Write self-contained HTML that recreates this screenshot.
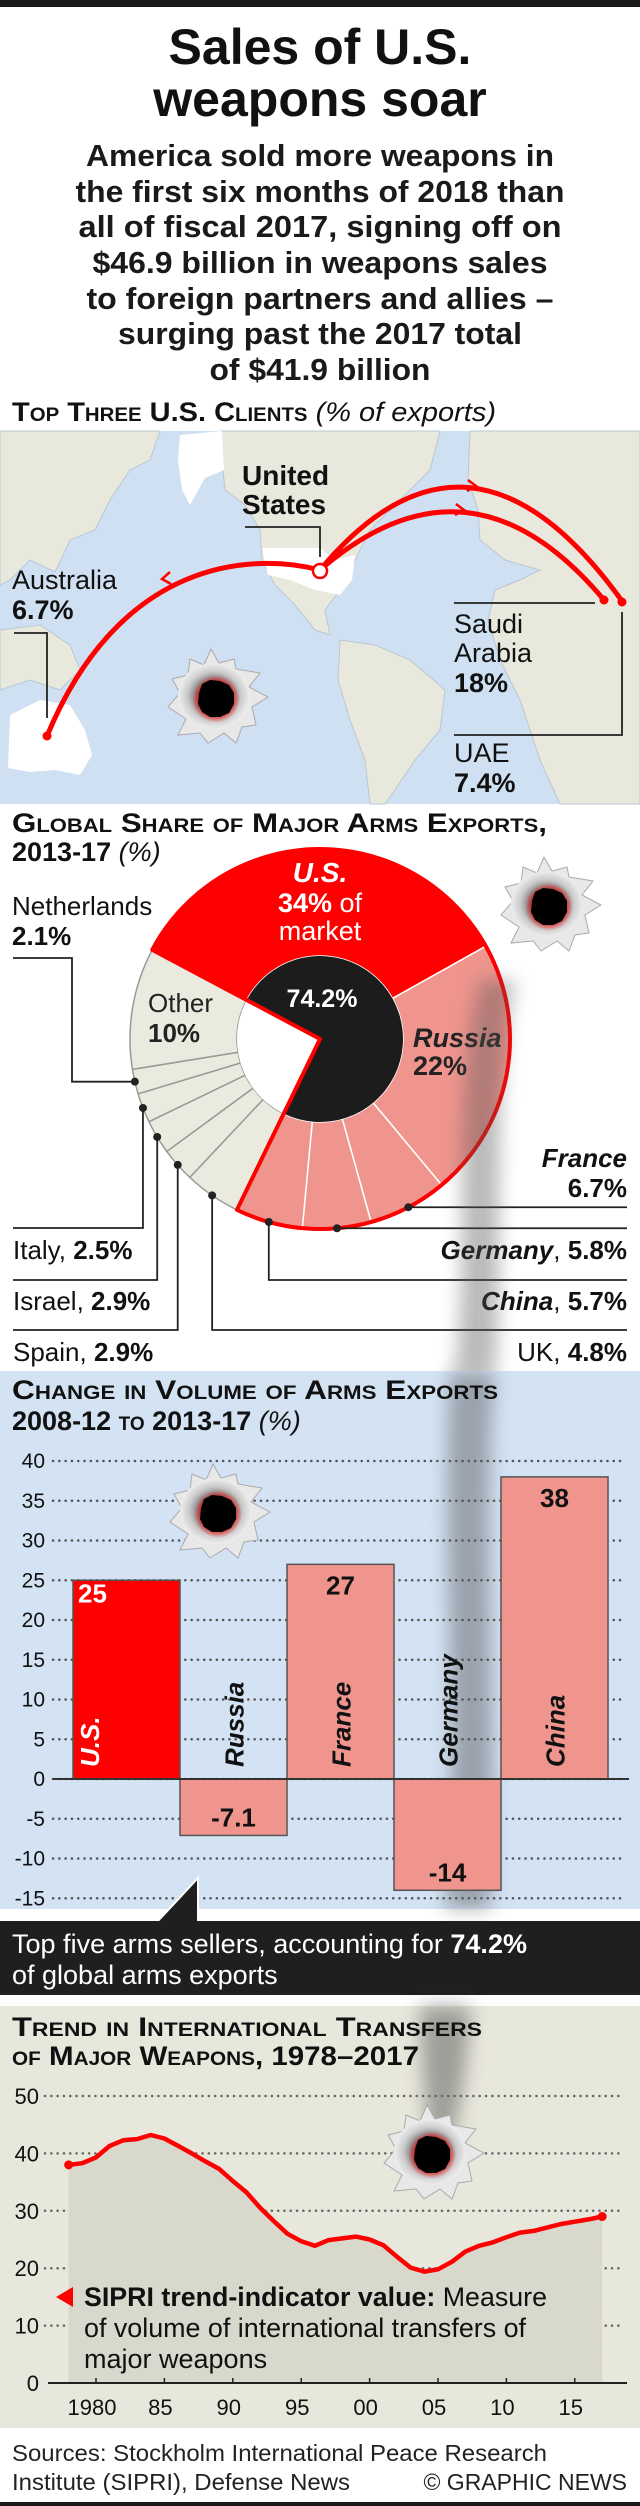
<!DOCTYPE html>
<html><head><meta charset="utf-8"><title>Sales of U.S. weapons soar</title>
<style>
html,body{margin:0;padding:0;background:#fff;}
svg{display:block;font-family:"Liberation Sans",Arial,sans-serif;}
.b{font-weight:bold;}
</style></head>
<body>
<svg id="root" width="640" height="2506" viewBox="0 0 640 2506" xmlns="http://www.w3.org/2000/svg">
<defs>
  <radialGradient id="holeGray" cx="50%" cy="50%" r="50%">
    <stop offset="0" stop-color="#333"/><stop offset="0.45" stop-color="#777"/><stop offset="0.75" stop-color="#ccc"/><stop offset="1" stop-color="#eee"/>
  </radialGradient>
  <radialGradient id="holeRed" cx="50%" cy="50%" r="50%">
    <stop offset="0.55" stop-color="#f00"/><stop offset="1" stop-color="#f00" stop-opacity="0"/>
  </radialGradient>
  <filter id="blur8" x="-50%" y="-10%" width="200%" height="120%"><feGaussianBlur stdDeviation="9"/></filter>
  <symbol id="hole" viewBox="-60 -60 120 120" overflow="visible">
    <polygon points="-5,-50 3,-36 18,-40 20,-30 44,-26 33,-12 52,-2 36,8 40,26 26,28 20,44 8,34 -8,44 -16,34 -38,36 -30,20 -48,8 -36,-6 -44,-20 -28,-24 -26,-40 -12,-34" fill="#e8e8e8" stroke="#aaa" stroke-width="1"/>
    <ellipse cx="-2" cy="-3" rx="36" ry="33" fill="url(#holeGray)"/>
    <circle cx="0" cy="0" r="24" fill="url(#holeRed)"/>
    <polygon points="-17,-6 -14,-15 -6,-19 4,-18 13,-14 18,-6 18,5 13,14 4,18 -6,18 -14,13 -18,5" fill="#000"/>
  </symbol>
</defs>

<!-- HEADER -->
<rect x="0" y="0" width="640" height="7" fill="#1a1a1a"/>
<text class="b" font-size="50" text-anchor="middle" fill="#111"><tspan x="320" y="64">Sales of U.S.</tspan><tspan x="320" y="116">weapons soar</tspan></text>
<g class="b" font-size="31" text-anchor="middle" fill="#1a1a1a">
  <text x="320" y="166" textLength="468" lengthAdjust="spacingAndGlyphs">America sold more weapons in</text>
  <text x="320" y="202" textLength="489" lengthAdjust="spacingAndGlyphs">the first six months of 2018 than</text>
  <text x="320" y="237" textLength="483" lengthAdjust="spacingAndGlyphs">all of fiscal  2017, signing off on</text>
  <text x="320" y="273" textLength="455" lengthAdjust="spacingAndGlyphs">$46.9 billion in weapons sales</text>
  <text x="320" y="309" textLength="467" lengthAdjust="spacingAndGlyphs">to foreign partners and allies –</text>
  <text x="320" y="344" textLength="404" lengthAdjust="spacingAndGlyphs">surging past the 2017 total</text>
  <text x="320" y="380" textLength="221" lengthAdjust="spacingAndGlyphs">of $41.9 billion</text>
</g>
<text x="12" y="421" font-size="27" fill="#111" textLength="484" lengthAdjust="spacingAndGlyphs"><tspan class="b" style="font-variant:small-caps">Top Three U.S. Clients</tspan> <tspan font-style="italic">(% of exports)</tspan></text>

<!-- MAP -->
<g>
  <rect x="0" y="431" width="640" height="373" fill="#cfe0f2"/>
  <g fill="#e9e8dc" stroke="#b9c7d3" stroke-width="1">
    <path d="M0,431 L160,431 L150,460 L130,470 L110,500 L95,530 L70,540 L55,572 L30,560 L10,580 L0,585 Z"/>
    <path d="M0,630 L40,625 L70,645 L80,670 L60,690 L30,680 L0,690 Z"/>
    <path d="M220,431 L440,431 L430,470 L400,500 L370,530 L355,560 L340,590 L325,610 L330,635 L315,630 L295,605 L275,585 L262,560 L260,530 L245,505 L225,490 L222,460 Z"/>
    <path d="M470,431 L530,431 L520,460 L495,470 L478,455 Z"/>
    <path d="M340,640 L375,645 L410,660 L445,690 L440,730 L415,760 L395,790 L385,804 L370,804 L365,760 L350,720 L338,680 Z"/>
    <path d="M470,431 L640,431 L640,804 L560,804 L540,760 L520,700 L500,660 L488,620 L495,590 L520,580 L540,570 L505,560 L480,540 L478,510 L468,480 Z"/>
  </g>
  <path d="M262,548 L320,548 L335,560 L355,555 L352,580 L340,595 L315,590 L290,580 L268,575 Z" fill="#fff"/>
  <path d="M180,435 L222,431 L224,470 L205,478 L190,505 L182,490 L178,460 Z" fill="#fff"/>
  <path d="M10,715 L40,700 L70,705 L85,730 L92,755 L80,775 L55,770 L30,772 L8,768 Z" fill="#fff"/>
  <use href="#hole" x="156" y="639" width="120" height="120"/>
  <g fill="none" stroke="#ff0000" stroke-width="5" stroke-linecap="round">
    <path d="M320,570 C250,552 120,560 47,736"/>
    <path d="M320,570 Q470,440 604,600"/>
    <path d="M320,570 Q470,390 622,601"/>
  </g>
  <g stroke="#ff0000" stroke-width="2.5" fill="none">
    <path d="M170,572 L162,579 L171,584"/>
    <path d="M456,504 L464,510 L455,515"/>
    <path d="M468,480 L476,486 L467,491"/>
  </g>
  <circle cx="320" cy="571" r="7" fill="#fff" stroke="#f00" stroke-width="2.5"/>
  <circle cx="47" cy="736" r="4.5" fill="#f00"/>
  <circle cx="604" cy="600" r="4.5" fill="#f00"/>
  <circle cx="622" cy="602" r="4.5" fill="#f00"/>
  <g fill="none" stroke="#222" stroke-width="1.8">
    <polyline points="245,527 320,527 320,557"/>
    <polyline points="14,633 47,633 47,718"/>
    <polyline points="454,603 595,603"/>
    <polyline points="454,735 622,735 622,612"/>
  </g>
  <text class="b" font-size="28" fill="#111"><tspan x="242" y="485">United</tspan><tspan x="242" y="514">States</tspan></text>
  <text font-size="27" fill="#111"><tspan x="12" y="589">Australia</tspan><tspan x="12" y="619" class="b">6.7%</tspan></text>
  <text font-size="27" fill="#111"><tspan x="454" y="633">Saudi</tspan><tspan x="454" y="662">Arabia</tspan><tspan x="454" y="692" class="b">18%</tspan></text>
  <text font-size="27" fill="#111"><tspan x="454" y="762">UAE</tspan><tspan x="454" y="792" class="b">7.4%</tspan></text>
</g>

<!-- DONUT SECTION -->
<text font-size="27" fill="#111"><tspan x="12" y="832" class="b" style="font-variant:small-caps" textLength="535" lengthAdjust="spacingAndGlyphs">Global Share of Major Arms Exports,</tspan><tspan x="12" y="861" class="b">2013-17 </tspan><tspan font-style="italic">(%)</tspan></text>

<g id="donut"></g>

<!-- smoke column over donut -->
<g opacity="0.4">
  <path d="M480,980 C450,1100 470,1250 455,1371 L495,1371 C505,1250 490,1100 515,980 Z" fill="#555" filter="url(#blur8)"/>
</g>
<use href="#hole" x="489" y="847" width="120" height="120"/>

<!-- BAR CHART -->
<rect x="0" y="1371" width="640" height="538" fill="#d3e3f4"/>
<g opacity="0.45"><path d="M450,1371 C440,1550 460,1720 445,1909 L490,1909 C500,1720 480,1550 495,1371 Z" fill="#555" filter="url(#blur8)"/></g>
<text font-size="27" fill="#111"><tspan x="12" y="1399" class="b" style="font-variant:small-caps" textLength="486" lengthAdjust="spacingAndGlyphs">Change in Volume of Arms Exports</tspan><tspan x="12" y="1430" class="b" style="font-variant:small-caps">2008-12 to 2013-17 </tspan><tspan font-style="italic">(%)</tspan></text>
<g id="bars"></g>
<use href="#hole" x="158" y="1454" width="120" height="120"/>

<!-- CALLOUT BAND -->
<rect x="0" y="1921" width="640" height="74" fill="#1f1f1f"/>
<polygon points="157,1922 198,1878 198,1922" fill="#1f1f1f" stroke="#fff" stroke-width="2"/>
<rect x="150" y="1921" width="49" height="4" fill="#1f1f1f"/>
<text font-size="27" fill="#fff"><tspan x="12" y="1953" textLength="515" lengthAdjust="spacingAndGlyphs">Top five arms sellers, accounting for <tspan class="b">74.2%</tspan></tspan><tspan x="12" y="1984">of global arms exports</tspan></text>

<!-- TREND CHART -->
<rect x="0" y="2006" width="640" height="422" fill="#e8e7dc"/>
<g opacity="0.5"><path d="M420,2006 L470,2006 C468,2060 460,2110 450,2150 L430,2150 C425,2100 422,2060 420,2006 Z" fill="#555" filter="url(#blur8)"/></g>
<text class="b" font-size="27" fill="#111" style="font-variant:small-caps"><tspan x="12" y="2036" textLength="470" lengthAdjust="spacingAndGlyphs">Trend in International Transfers</tspan><tspan x="12" y="2065" textLength="407" lengthAdjust="spacingAndGlyphs">of Major Weapons, 1978–2017</tspan></text>
<g id="trend"></g>
<use href="#hole" x="372" y="2095" width="120" height="120"/>
<polygon points="56,2297 73,2287 73,2307" fill="#f00"/>
<text font-size="27" fill="#111"><tspan x="84" y="2306" textLength="463" lengthAdjust="spacingAndGlyphs"><tspan class="b">SIPRI trend-indicator value:</tspan> Measure</tspan><tspan x="84" y="2337" textLength="442" lengthAdjust="spacingAndGlyphs">of volume of international transfers of</tspan><tspan x="84" y="2368">major weapons</tspan></text>

<!-- FOOTER -->
<text font-size="23" fill="#222"><tspan x="12" y="2461" textLength="535" lengthAdjust="spacingAndGlyphs">Sources: Stockholm International Peace Research</tspan><tspan x="12" y="2490" textLength="338" lengthAdjust="spacingAndGlyphs">Institute (SIPRI), Defense News</tspan></text>
<text x="627" y="2490" font-size="23" fill="#222" text-anchor="end">© GRAPHIC NEWS</text>
<rect x="0" y="2502" width="640" height="4" fill="#1a1a1a"/>
</svg>

<script>
// ---------- DONUT DATA ----------
const donutNames = ["U.S.","Russia","France","Germany","China","UK","Spain","Israel","Italy","Netherlands","Other"];
const donutShares = [34,22,6.7,5.8,5.7,4.8,2.9,2.9,2.5,2.1,10.3];
const donutTopCount = 5;

// ---------- BAR DATA ----------
const barCountries = ["U.S.","Russia","France","Germany","China"];
const barValues = [25,-7.1,27,-14,38];
const barTicks = [40,35,30,25,20,15,10,5,0,-5,-10,-15];

// ---------- TREND DATA ----------
const trendYears = [1978,1979,1980,1981,1982,1983,1984,1985,1986,1987,1988,1989,1990,1991,1992,1993,1994,1995,1996,1997,1998,1999,2000,2001,2002,2003,2004,2005,2006,2007,2008,2009,2010,2011,2012,2013,2014,2015,2016,2017];
const trendValues = [38,38.3,39.3,41.3,42.3,42.5,43.2,42.6,41.3,40,38.6,37.3,35.2,33.2,30.5,28.2,26,24.7,23.9,24.9,25.2,25.5,25,24,22,20.1,19.4,19.8,21.1,22.9,23.9,24.5,25.4,26.2,26.5,27.1,27.7,28.1,28.5,29];
const trendTicks = [50,40,30,20,10,0];
const trendXTicks = [1980,1985,1990,1995,2000,2005,2010,2015];
const trendXLabels = ["1980","85","90","95","00","05","10","15"];

const NS = "http://www.w3.org/2000/svg";
function mk(tag, attrs, parent){ const e=document.createElementNS(NS,tag); for(const k in attrs) e.setAttribute(k,attrs[k]); parent.appendChild(e); return e; }

// ===== DONUT =====
(function(){
  const g = document.getElementById('donut');
  const cx=320, cy=1039, R=190, r0=83, start=152;
  const P=(a,r)=>[cx+r*Math.cos(a*Math.PI/180), cy-r*Math.sin(a*Math.PI/180)];
  const total = donutShares.reduce((a,b)=>a+b,0);
  let a=start; const angles=[];
  donutShares.forEach((s,i)=>{ const span=s/total*360; angles.push([a,a-span]); a-=span; });
  angles.forEach(([a0,a1],i)=>{
    const big = (a0-a1)>180?1:0;
    const o0=P(a0,R), o1=P(a1,R), i1=P(a1,r0), i0=P(a0,r0);
    const col = i===0 ? "#ff0000" : (i<donutTopCount ? "#ef958e" : "#ebeadf");
    const p = mk('path',{d:`M${o0} A${R},${R} 0 ${big} 1 ${o1} L${i1} A${r0},${r0} 0 ${big} 0 ${i0} Z`,fill:col,stroke:i<donutTopCount?"#fff":"#999","stroke-width":1.5},g);
    
    
  });
  const topEnd = angles[donutTopCount-1][1];
  const ia=P(start,r0), ib=P(topEnd,r0);
  const w = mk('circle',{cx:cx,cy:cy,r:r0,fill:"#fff"},g);
  
  
  const blk = mk('path',{d:`M${cx},${cy} L${ia} A${r0},${r0} 0 1 1 ${ib} Z`,fill:"#1c1c1c"},g);
  
  
  const oa=P(start,R), ob=P(topEnd,R);
  const ol = mk('path',{d:`M${cx},${cy} L${oa} A${R},${R} 0 1 1 ${ob} Z`,fill:"none",stroke:"#ff0000","stroke-width":4,"stroke-linejoin":"round"},g);
  
  
  const t1 = mk('text',{x:320,y:882,"font-size":28,"font-weight":"bold","font-style":"italic",fill:"#fff","text-anchor":"middle"},g); t1.textContent="U.S.";
  
  
  const t2 = mk('text',{x:320,y:912,"font-size":27,fill:"#fff","text-anchor":"middle"},g); t2.innerHTML='<tspan font-weight="bold">'+donutShares[0]+'%</tspan> of';
  
  
  const t3 = mk('text',{x:320,y:940,"font-size":27,fill:"#fff","text-anchor":"middle"},g); t3.textContent="market";
  
  
  const t4 = mk('text',{x:322,y:1007,"font-size":25,"font-weight":"bold",fill:"#fff","text-anchor":"middle"},g);
  t4.textContent = (donutShares.slice(0,donutTopCount).reduce((a,b)=>a+b,0)).toFixed(1)+"%";
  
  
  const t5 = mk('text',{"font-size":27,fill:"#222"},g); t5.innerHTML='<tspan x="413" y="1047" font-weight="bold" font-style="italic">Russia</tspan><tspan x="413" y="1075" font-weight="bold">'+donutShares[1]+'%</tspan>';
  
  
  const t6 = mk('text',{"font-size":26,fill:"#222"},g); t6.innerHTML='<tspan x="148" y="1012">Other</tspan><tspan x="148" y="1042" font-weight="bold">'+Math.round(donutShares[10])+'%</tspan>';
  
  
  const mid=i=>(angles[i][0]+angles[i][1])/2;
  const dot=i=>P(mid(i),R);
  const leaders = [
    [2,'right',null],[3,'right',null],[4,'rightdown',1280],[5,'rightdown',1330],
    [6,'leftdown',1330],[7,'leftdown',1280],[8,'leftdown',1228],[9,'nl',null]
  ];
  leaders.forEach(([i,type,row])=>{
    const [x,y]=dot(i); let pts;
    if(type==='right') pts=`${x},${y} 627,${y}`;
    else if(type==='rightdown') pts=`${x},${y} ${x},${row} 627,${row}`;
    else if(type==='leftdown') pts=`${x},${y} ${x},${row} 13,${row}`;
    else pts=`${x},${y} 72,${y} 72,958 13,958`;
    const l = mk('polyline',{points:pts,fill:"none",stroke:"#222","stroke-width":1.8},g);
    
    
    const c = mk('circle',{cx:x,cy:y,r:4,fill:"#222"},g);
    
    
  });
  const side = [
    [2,627,null,'end'],[3,627,1259,'end'],[4,627,1310,'end'],[5,627,1361,'end'],
    [8,13,1259,'start'],[7,13,1310,'start'],[6,13,1361,'start']
  ];
  side.forEach(([i,x,y,anc])=>{
    const t = mk('text',{"font-size":26,fill:"#111","text-anchor":anc},g);
    const ital = i<donutTopCount;
    if(i===2){
      t.innerHTML='<tspan x="627" y="1167" font-weight="bold" font-style="italic">'+donutNames[i]+'</tspan><tspan x="627" y="1197" font-weight="bold">'+donutShares[i]+'%</tspan>';
    } else {
      t.setAttribute('x',x); t.setAttribute('y',y);
      t.innerHTML='<tspan'+(ital?' font-weight="bold" font-style="italic"':'')+'>'+donutNames[i]+'</tspan>, <tspan font-weight="bold">'+donutShares[i]+'%</tspan>';
    }
    
    
  });
  const nl = mk('text',{"font-size":26,fill:"#111"},g);
  nl.innerHTML='<tspan x="12" y="915">'+donutNames[9]+'</tspan><tspan x="12" y="945" font-weight="bold">'+donutShares[9]+'%</tspan>';
  
  
})();

// ===== BARS =====
(function(){
  const g=document.getElementById('bars');
  const y=v=>1779-7.95*v;
  const x0=73, bw=107;
  barTicks.forEach(t=>{
    const l=mk('line',{x1:53,x2:622,y1:y(t),y2:y(t),stroke:"#555","stroke-width":2.5,"stroke-dasharray":"0.1 6.2","stroke-linecap":"round"},g);
    
    
    const tx=mk('text',{x:45,y:y(t)+7,"font-size":21,fill:"#111","text-anchor":"end"},g); tx.textContent=t;
    
    
  });
  barValues.forEach((v,i)=>{
    const xa=x0+i*bw, top=Math.min(y(v),y(0)), h=Math.abs(y(v)-y(0));
    const r=mk('rect',{x:xa,y:top,width:bw,height:h,fill:i===0?"#ff0000":"#ef958e",stroke:"#555","stroke-width":1.5},g);
    
    
    const cxm=xa+bw/2;
    const lab=mk('text',{"font-size":26,"font-weight":"bold",fill:i===0?"#fff":"#111"},g);
    if(i===0){ lab.setAttribute('x',xa+5); lab.setAttribute('y',y(v)+22); }
    else if(v>=0){ lab.setAttribute('x',cxm); lab.setAttribute('y',y(v)+30); lab.setAttribute('text-anchor','middle'); }
    else { lab.setAttribute('x',cxm); lab.setAttribute('y',y(v)-9); lab.setAttribute('text-anchor','middle'); }
    lab.textContent=v;
    
    
    const nx = i===0 ? xa+26 : cxm+10;
    const nm=mk('text',{x:0,y:0,"font-size":26,"font-weight":"bold","font-style":"italic",fill:i===0?"#fff":"#111",transform:`translate(${nx},${y(0)-12}) rotate(-90)`},g);
    nm.textContent=barCountries[i];
    
    
  });
  const z=mk('line',{x1:53,x2:629,y1:y(0),y2:y(0),stroke:"#333","stroke-width":2},g);
  
  
})();

// ===== TREND =====
(function(){
  const g=document.getElementById('trend');
  const x=yr=>96+(yr-1980)*13.68;
  const y=v=>2383-5.74*v;
  trendTicks.forEach(t=>{
    if(t>0){
      const l=mk('line',{x1:45,x2:624,y1:y(t),y2:y(t),stroke:"#666","stroke-width":2.5,"stroke-dasharray":"0.1 6.2","stroke-linecap":"round"},g);
      
      
    }
    const tx=mk('text',{x:39,y:y(t)+8,"font-size":22,fill:"#111","text-anchor":"end"},g); tx.textContent=t;
    
    
  });
  let pts=trendYears.map((yr,i)=>x(yr).toFixed(1)+','+y(trendValues[i]).toFixed(1));
  const area=mk('polygon',{points:x(trendYears[0])+','+y(0)+' '+pts.join(' ')+' '+x(trendYears[trendYears.length-1])+','+y(0),fill:"#d9d8cc"},g);
  
  
  const ln=mk('polyline',{points:pts.join(' '),fill:"none",stroke:"#ff0000","stroke-width":4.5,"stroke-linejoin":"round","stroke-linecap":"round"},g);
  
  
  [0,trendYears.length-1].forEach(i=>{
    const c=mk('circle',{cx:x(trendYears[i]),cy:y(trendValues[i]),r:4.5,fill:"#f00"},g);
    
    
  });
  const ax=mk('line',{x1:48,x2:627,y1:y(0),y2:y(0),stroke:"#222","stroke-width":2},g);
  
  
  trendXTicks.forEach((yr,i)=>{
    const tk=mk('line',{x1:x(yr),x2:x(yr),y1:y(0),y2:y(0)-5,stroke:"#222","stroke-width":1.5},g);
    
    
    const tx=mk('text',{x:x(yr)-4,y:2415,"font-size":22,fill:"#111","text-anchor":"middle"},g); tx.textContent=trendXLabels[i];
    
    
  });
})();
</script>
</body></html>
